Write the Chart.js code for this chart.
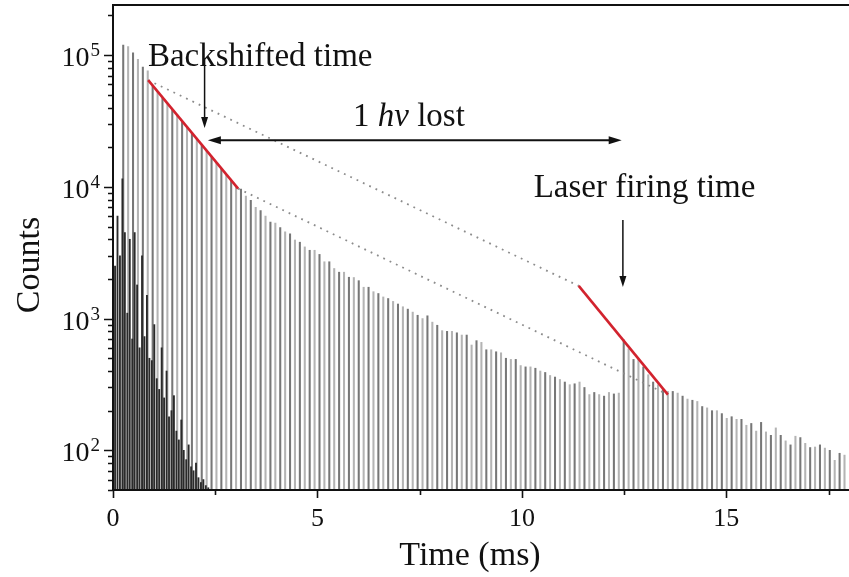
<!DOCTYPE html>
<html>
<head>
<meta charset="utf-8">
<script src="https://cdn.jsdelivr.net/npm/chart.js@4.4.1/dist/chart.umd.min.js"></script>
<style>
  html, body { margin: 0; padding: 0; background: #ffffff; }
  #wrap { width: 849px; height: 577px; position: relative; }
</style>
</head>
<body>
<div id="wrap"><canvas id="c"></canvas></div>
<script>
// ---------------- data ----------------
// Time of each laser shot (ms), main (grey) trace
const shotTimes = [
  0.25,0.37,0.49,0.61,0.73,0.85,0.97,1.09,1.21,1.33,
  1.45,1.57,1.69,1.81,1.93,2.05,2.17,2.29,2.41,2.53,
  2.65,2.77,2.89,3.01,3.13,3.25,3.37,3.49,3.61,3.73,
  3.85,3.97,4.09,4.21,4.33,4.45,4.57,4.69,4.81,4.93,
  5.05,5.17,5.29,5.41,5.53,5.65,5.77,5.89,6.01,6.13,
  6.25,6.37,6.49,6.61,6.73,6.85,6.97,7.09,7.21,7.33,
  7.45,7.57,7.69,7.81,7.93,8.05,8.17,8.29,8.41,8.53,
  8.65,8.77,8.89,9.01,9.13,9.25,9.37,9.49,9.61,9.73,
  9.85,9.97,10.09,10.21,10.33,10.45,10.57,10.69,10.81,10.93,
  11.05,11.17,11.29,11.41,11.53,11.65,11.77,11.89,12.01,12.13,
  12.25,12.37,12.49,12.61,12.73,12.85,12.97,13.09,13.21,13.33,
  13.45,13.57,13.69,13.81,13.93,14.05,14.17,14.29,14.41,14.53,
  14.65,14.77,14.89,15.01,15.13,15.25,15.37,15.49,15.61,15.73,
  15.85,15.97,16.09,16.21,16.33,16.45,16.57,16.69,16.81,16.93,
  17.05,17.17,17.29,17.41,17.53,17.65,17.77,17.89
];
// Counts of each shot, main trace
const shotCounts = [
  119000,116000,104000,93000,81000,76000,58000,52000,47000,42500,
  38500,35000,31500,28500,25800,23200,21000,18800,16900,15300,
  13800,12400,11100,10000,9600,8500,7900,7000,6600,6000,
  5400,5300,4900,4550,4400,3950,3800,3500,3300,3300,
  3070,2700,2700,2400,2250,2250,2060,2050,1940,1730,
  1730,1600,1550,1460,1420,1350,1290,1230,1180,1120,
  1060,1000,1050,940,890,810,800,800,780,750,
  750,630,680,660,580,580,560,550,500,490,
  490,440,430,430,420,400,390,370,360,345,
  330,315,320,330,300,265,275,265,258,275,
  268,272,690,590,490,500,430,375,330,315,
  290,280,280,272,258,245,240,235,215,210,
  200,200,190,175,180,172,172,155,160,140,
  163,138,130,148,130,118,110,128,125,113,
  105,106,110,104,100,84,95,92
];
// Fast-decaying dark trace at early times
const earlyTimes = [
  0.05,0.11,0.17,0.23,0.29,0.35,0.41,0.47,0.53,0.59,
  0.65,0.71,0.77,0.83,0.89,0.95,1.01,1.07,1.13,1.19,
  1.25,1.31,1.37,1.43,1.49,1.55,1.61,1.67,1.73,1.79,
  1.85,1.91,1.97,2.03,2.09,2.15,2.21,2.27,2.33
];
const earlyCounts = [
  2500,6000,3000,11500,4500,1100,4000,700,4500,1800,
  600,3000,730,1500,500,480,900,350,290,600,
  250,400,180,200,260,140,120,170,100,85,
  110,75,70,80,62,57,60,54,52
];
// Red fitted decay segments (ms, counts)
const redFitA = [{x: 0.86, y: 64500}, {x: 3.06, y: 9700}];
const redFitB = [{x: 11.39, y: 1770}, {x: 13.57, y: 265}];
// Dotted guide lines
const guideUpper = [{x: 0.86, y: 64500}, {x: 11.39, y: 1770}];
const guideLower = [{x: 3.06, y: 9700}, {x: 13.57, y: 265}];

// Axis settings / tick labels
const xMin = 0, xMax = 18;
const yMin = 50, yMax = 240000;
const xTickValues = [0, 2.5, 5, 7.5, 10, 12.5, 15, 17.5];
const xTickLabels = ['0', '', '5', '', '10', '', '15', ''];
const yTickValues = [100, 1000, 10000, 100000];
const yTickBase = '10';
const yTickExponents = ['2', '3', '4', '5'];
const xTitle = 'Time (ms)';
const yTitle = 'Counts';

// Annotations (positions in data units: ms, counts)
const annBackshiftText = {text: 'Backshifted time', x: 3.6, y: 82000};
const annBackshiftArrow = {x: 2.24, y1: 92000, y2: 28000};
const annLostArrow = {x1: 2.32, x2: 12.44, y: 22600};
const annLostText = {x: 5.87, y: 29000};
const annLaserText = {text: 'Laser firing time', x: 13.0, y: 8400};
const annLaserArrow = {x: 12.47, y1: 5600, y2: 1740};

// ---------------- chart ----------------
const FONT = '"Liberation Serif", "Times New Roman", serif';
const mainData = shotTimes.map((t, i) => ({x: t, y: shotCounts[i]}));
const earlyData = earlyTimes.map((t, i) => ({x: t, y: earlyCounts[i]}));

function arrowHead(ctx, x, y, dir, len, half) {
  ctx.beginPath();
  if (dir === 'down') { ctx.moveTo(x, y); ctx.lineTo(x - half, y - len); ctx.lineTo(x + half, y - len); }
  if (dir === 'left') { ctx.moveTo(x, y); ctx.lineTo(x + len, y - half); ctx.lineTo(x + len, y + half); }
  if (dir === 'right') { ctx.moveTo(x, y); ctx.lineTo(x - len, y - half); ctx.lineTo(x - len, y + half); }
  ctx.closePath();
  ctx.fill();
}

const decor = {
  id: 'decor',
  afterDraw(chart) {
    const ctx = chart.ctx;
    const xs = chart.scales.x, ys = chart.scales.y;
    const a = chart.chartArea;
    ctx.save();
    ctx.strokeStyle = '#111';
    ctx.fillStyle = '#111';
    // frame: left, bottom, top
    ctx.lineWidth = 2;
    ctx.beginPath();
    ctx.moveTo(a.left, a.top); ctx.lineTo(a.left, a.bottom);
    ctx.moveTo(a.left - 1, a.bottom); ctx.lineTo(a.right, a.bottom);
    ctx.moveTo(a.left - 1, a.top); ctx.lineTo(a.right, a.top);
    ctx.stroke();
    // y ticks (major at decades, minor in between)
    ctx.lineWidth = 1.6;
    ctx.beginPath();
    for (let e = 1; e <= 5; e++) {
      for (let m = 1; m <= 9; m++) {
        const v = m * Math.pow(10, e);
        if (v < yMin || v > yMax) continue;
        const py = Math.round(ys.getPixelForValue(v)) + 0.5;
        const len = m === 1 ? 9 : 5;
        ctx.moveTo(a.left - len, py); ctx.lineTo(a.left, py);
      }
    }
    ctx.stroke();
    // x ticks
    ctx.beginPath();
    xTickValues.forEach((v, i) => {
      const px = Math.round(xs.getPixelForValue(v)) + 0.5;
      const len = xTickLabels[i] ? 8 : 5;
      ctx.moveTo(px, a.bottom); ctx.lineTo(px, a.bottom + len);
    });
    ctx.stroke();
    // x tick labels
    ctx.font = '26px ' + FONT;
    ctx.textAlign = 'center';
    ctx.textBaseline = 'alphabetic';
    xTickValues.forEach((v, i) => {
      if (!xTickLabels[i]) return;
      ctx.fillText(xTickLabels[i], xs.getPixelForValue(v), 526);
    });
    // y tick labels 10^n
    yTickValues.forEach((v, i) => {
      const py = ys.getPixelForValue(v);
      ctx.font = '19px ' + FONT;
      const supW = ctx.measureText(yTickExponents[i]).width;
      ctx.textAlign = 'left';
      ctx.fillText(yTickExponents[i], a.left - 13 - supW, py + 1);
      ctx.font = '28px ' + FONT;
      ctx.textAlign = 'right';
      ctx.fillText(yTickBase, a.left - 14 - supW, py + 11);
    });
    // axis titles
    ctx.font = '34px ' + FONT;
    ctx.textAlign = 'center';
    ctx.fillText(xTitle, 470, 565);
    ctx.save();
    ctx.translate(39, 265);
    ctx.rotate(-Math.PI / 2);
    ctx.fillText(yTitle, 0, 0);
    ctx.restore();

    // annotations
    ctx.font = '33px ' + FONT;
    ctx.textAlign = 'center';
    ctx.fillText(annBackshiftText.text, xs.getPixelForValue(annBackshiftText.x), ys.getPixelForValue(annBackshiftText.y));
    ctx.fillText(annLaserText.text, xs.getPixelForValue(annLaserText.x), ys.getPixelForValue(annLaserText.y));
    {
      const p1 = '1 ', p2 = 'hv', p3 = ' lost';
      ctx.textAlign = 'left';
      let x0 = xs.getPixelForValue(annLostText.x);
      const y0 = ys.getPixelForValue(annLostText.y);
      ctx.font = '33px ' + FONT; ctx.fillText(p1, x0, y0); x0 += ctx.measureText(p1).width;
      ctx.font = 'italic 33px ' + FONT; ctx.fillText(p2, x0, y0); x0 += ctx.measureText(p2).width;
      ctx.font = '33px ' + FONT; ctx.fillText(p3, x0, y0);
    }
    ctx.lineWidth = 1.5;
    {
      const px = xs.getPixelForValue(annBackshiftArrow.x);
      const y1 = ys.getPixelForValue(annBackshiftArrow.y1), y2 = ys.getPixelForValue(annBackshiftArrow.y2);
      ctx.beginPath(); ctx.moveTo(px, y1); ctx.lineTo(px, y2 - 8); ctx.stroke();
      arrowHead(ctx, px, y2, 'down', 11, 3.5);
    }
    {
      const px = xs.getPixelForValue(annLaserArrow.x);
      const y1 = ys.getPixelForValue(annLaserArrow.y1), y2 = ys.getPixelForValue(annLaserArrow.y2);
      ctx.beginPath(); ctx.moveTo(px, y1); ctx.lineTo(px, y2 - 8); ctx.stroke();
      arrowHead(ctx, px, y2, 'down', 11, 3.5);
    }
    {
      const x1 = xs.getPixelForValue(annLostArrow.x1), x2 = xs.getPixelForValue(annLostArrow.x2);
      const py = ys.getPixelForValue(annLostArrow.y);
      ctx.lineWidth = 2;
      ctx.beginPath(); ctx.moveTo(x1 + 8, py); ctx.lineTo(x2 - 8, py); ctx.stroke();
      arrowHead(ctx, x1, py, 'left', 13, 4);
      arrowHead(ctx, x2, py, 'right', 13, 4);
    }
    ctx.restore();
  }
};

new Chart(document.getElementById('c'), {
  type: 'bar',
  data: {
    datasets: [
      { type: 'line', data: redFitA, borderColor: '#d2232e', borderWidth: 2.6, pointRadius: 0, order: 0 },
      { type: 'line', data: redFitB, borderColor: '#d2232e', borderWidth: 2.6, pointRadius: 0, order: 0 },
      { type: 'line', data: guideUpper, borderColor: '#8c8c8c', borderWidth: 1.8, borderDash: [1.8, 5.2], pointRadius: 0, order: 1 },
      { type: 'line', data: guideLower, borderColor: '#8c8c8c', borderWidth: 1.8, borderDash: [1.8, 5.2], pointRadius: 0, order: 1 },
      { type: 'bar', data: earlyData, backgroundColor: '#2a2a2a', barThickness: 1.2, grouped: false, order: 2 },
      { type: 'bar', data: mainData,
        backgroundColor: (c) => (c.dataIndex % 2 === 0 ? '#777777' : '#b4b4b4'),
        barThickness: 1.4, grouped: false, order: 3 }
    ]
  },
  options: {
    responsive: true,
    maintainAspectRatio: false,
    animation: false,
    events: [],
    layout: { padding: { left: 113, top: 5, right: 0, bottom: 87 } },
    plugins: { legend: { display: false }, tooltip: { enabled: false } },
    scales: {
      x: {
        type: 'linear', min: xMin, max: xMax, offset: false,
        grid: { display: false, offset: false }, border: { display: false },
        ticks: { display: false },
        afterFit: (s) => { s.height = 0; }
      },
      y: {
        type: 'logarithmic', min: yMin, max: yMax,
        grid: { display: false }, border: { display: false },
        ticks: { display: false },
        afterFit: (s) => { s.width = 0; }
      }
    }
  },
  plugins: [decor]
});
</script>
</body>
</html>
